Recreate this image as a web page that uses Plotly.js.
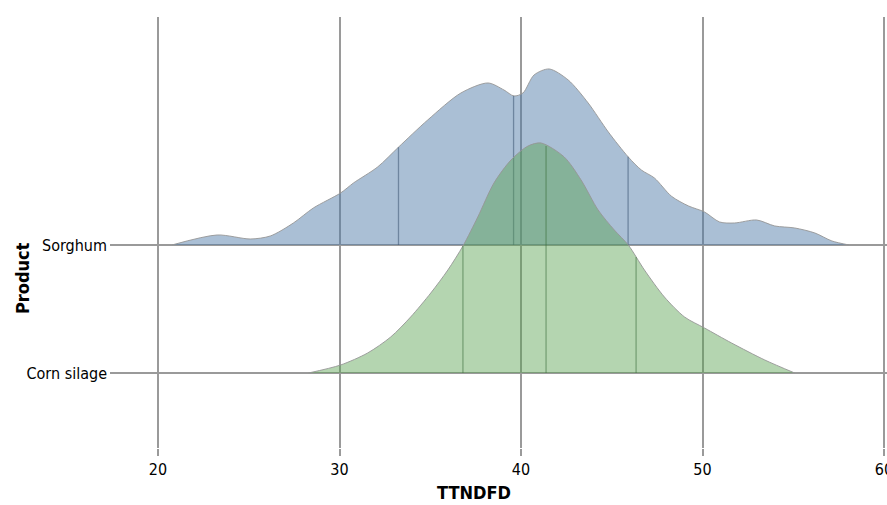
<!DOCTYPE html>
<html><head><meta charset="utf-8">
<script src="https://cdn.plot.ly/plotly-3.0.1.min.js"></script>
<style>html,body{margin:0;padding:0;background:#fff}#chart{width:887px;height:505px}</style>
</head><body><div id="chart"></div>
<script>
// Categories (ridge rows) and their order from bottom to top
const categories = ["Corn silage", "Sorghum"];

// Kernel density estimates of TTNDFD for each product
const sorghumX = [20.77, 23.26, 25.08, 26.19, 27.46, 28.56, 30.06, 30.77, 32.10, 33.26, 34.86, 36.69, 38.18, 39.06, 39.61, 40.11, 40.72, 41.55, 42.60, 43.70, 44.81, 45.91, 46.63, 47.35, 48.29, 49.23, 50.11, 50.94, 51.77, 52.98, 53.98, 55.08, 56.19, 57.13, 58.07];
const sorghumDensity = [0, 0.0040, 0.0024, 0.0036, 0.0088, 0.0148, 0.0208, 0.0248, 0.0312, 0.0392, 0.0500, 0.0608, 0.0648, 0.0620, 0.0596, 0.0608, 0.0680, 0.0704, 0.0660, 0.0568, 0.0452, 0.0352, 0.0300, 0.0268, 0.0195, 0.0156, 0.0132, 0.0092, 0.0088, 0.0100, 0.0076, 0.0068, 0.0048, 0.0016, 0];
const sorghumQuartiles = [33.25, 39.59, 45.90];

const cornX = [28.29, 30.06, 31.55, 32.82, 33.92, 35.03, 35.97, 36.80, 37.62, 38.51, 39.45, 40.39, 41.10, 42.38, 43.31, 44.25, 45.14, 45.91, 46.80, 47.90, 49.01, 50.11, 51.60, 53.43, 55.08];
const cornDensity = [0, 0.0032, 0.0080, 0.0144, 0.0224, 0.0320, 0.0412, 0.0508, 0.0624, 0.0760, 0.0852, 0.0908, 0.0920, 0.0864, 0.0772, 0.0652, 0.0572, 0.0512, 0.0412, 0.0304, 0.0224, 0.0180, 0.0120, 0.0052, 0];
const cornQuartiles = [36.80, 41.38, 46.34];

const xTicks = [20, 30, 40, 50, 60];
const xTitle = "TTNDFD";
const yTitle = "Product";

// ridge height: density units -> row units
const SCALE = 2500 / 128;

function interp(xs, ys, x) {
  for (let i = 0; i < xs.length - 1; i++) {
    if (x >= xs[i] && x <= xs[i + 1]) {
      const t = (x - xs[i]) / (xs[i + 1] - xs[i]);
      return ys[i] + t * (ys[i + 1] - ys[i]);
    }
  }
  return 0;
}

function ridge(xs, ds, base, fill) {
  return {
    type: "scatter", mode: "lines", x: xs, y: ds.map(d => base + d * SCALE),
    fill: "toself", fillcolor: fill,
    line: {color: "rgba(150,150,150,0.9)", width: 1, shape: "spline", smoothing: 0.8},
    hoverinfo: "skip", showlegend: false
  };
}
function quartileLines(xs, ds, qs, base, color) {
  const lx = [], ly = [];
  qs.forEach(q => { lx.push(q, q, null); ly.push(base, base + interp(xs, ds, q) * SCALE, null); });
  return {type: "scatter", mode: "lines", x: lx, y: ly, line: {color: color, width: 1.3},
          hoverinfo: "skip", showlegend: false};
}

const sBase = categories.indexOf("Sorghum");
const cBase = categories.indexOf("Corn silage");

const data = [
  ridge(sorghumX, sorghumDensity, sBase, "rgba(78,121,167,0.48)"),
  quartileLines(sorghumX, sorghumDensity, sorghumQuartiles, sBase, "rgba(60,85,115,0.55)"),
  ridge(cornX, cornDensity, cBase, "rgba(89,161,79,0.45)"),
  quartileLines(cornX, cornDensity, cornQuartiles, cBase, "rgba(60,110,60,0.5)")
];

const FONT = "DejaVu Sans Condensed, DejaVu Sans, sans-serif";
const layout = {
  width: 887, height: 505,
  margin: {l: 110, r: 0, t: 17, b: 57},
  paper_bgcolor: "#fff", plot_bgcolor: "#fff",
  showlegend: false,
  font: {family: FONT, color: "#000"},
  xaxis: {
    range: [17.355, 60.165], tickvals: xTicks, ticktext: xTicks.map(String),
    showgrid: true, gridcolor: "#9a9a9a", gridwidth: 2, zeroline: false,
    ticks: "outside", ticklen: 7, tickwidth: 2, tickcolor: "#9a9a9a",
    ticklabeloverflow: "allow",
    tickfont: {size: 16, family: FONT},
    showline: false
  },
  yaxis: {
    range: [-0.586, 2.781], tickvals: [cBase, sBase], ticktext: categories,
    showgrid: true, gridcolor: "#9a9a9a", gridwidth: 2, zeroline: false,
    ticks: "", ticklabelstandoff: 2, showline: false,
    tickfont: {size: 16, family: FONT}
  },
  annotations: [
    {text: "<b>" + xTitle + "</b>", xref: "paper", yref: "paper", x: (474 - 110) / 777, y: -(492 - 448) / 431,
     xanchor: "center", yanchor: "middle", showarrow: false, font: {size: 18, family: FONT, color: "#000"}},
    {text: "<b>" + yTitle + "</b>", xref: "paper", yref: "paper", x: (22 - 110) / 777, y: (448 - 278) / 431,
     xanchor: "center", yanchor: "middle", textangle: -90, showarrow: false, font: {size: 18, family: FONT, color: "#000"}}
  ]
};

Plotly.newPlot("chart", data, layout, {displayModeBar: false, staticPlot: true});
</script>
</body></html>
